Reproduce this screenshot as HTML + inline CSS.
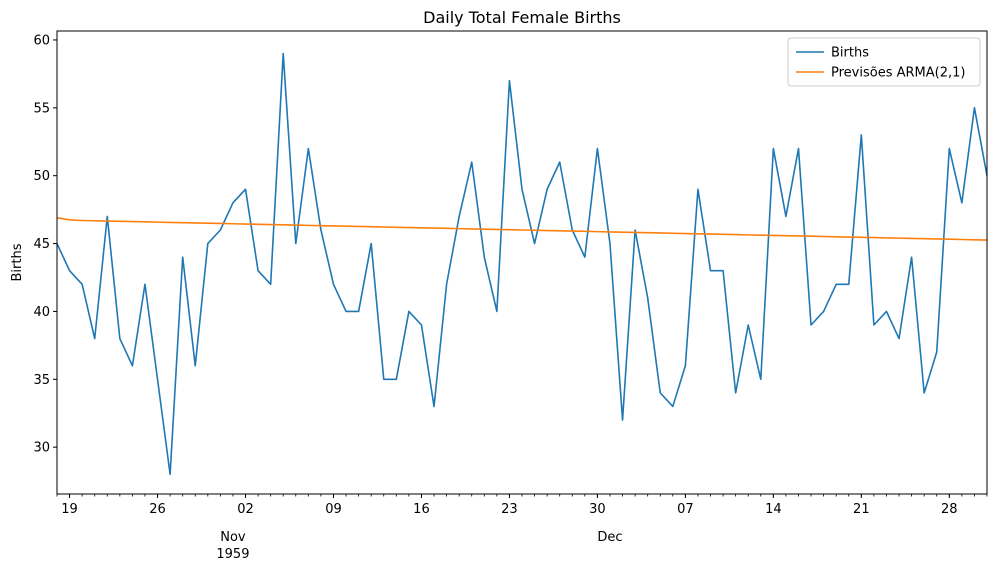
<!DOCTYPE html>
<html><head><meta charset="utf-8"><style>
body{margin:0;background:#fff;font-family:"Liberation Sans","DejaVu Sans",sans-serif;}
svg{display:block}
text{font-family:"DejaVu Sans","Liberation Sans",sans-serif;fill:#000}
</style></head><body>
<svg id="chart" width="996" height="576" viewBox="0 0 996 576"></svg>
<script>
const births = [45,43,42,38,47,38,36,42,35,28,44,36,45,46,
48,49,43,42,59,45,52,46,42,40,40,45,35,35,40,39,33,42,47,51,44,40,57,49,45,49,51,46,44,52,
45,32,46,41,34,33,36,49,43,43,34,39,35,52,47,52,39,40,42,42,53,39,40,38,44,34,37,52,48,55,50];
const forecast = [46.90,46.75,46.70,46.68,46.66,46.64,46.62,46.60,46.58,46.56,46.54,46.52,46.50,46.48,46.46,46.44,46.42,46.40,46.38,46.36,46.34,46.32,46.30,46.28,46.26,46.24,46.22,46.20,46.18,46.16,46.14,46.12,46.10,46.08,46.06,46.04,46.02,46.00,45.98,45.96,45.94,45.92,45.90,45.88,45.86,45.84,45.82,45.80,45.78,45.76,45.74,45.72,45.70,45.68,45.66,45.64,45.62,45.60,45.58,45.56,45.54,45.52,45.50,45.48,45.46,45.44,45.42,45.40,45.38,45.36,45.34,45.32,45.30,45.28,45.26];
const yTicks = [30,35,40,45,50,55,60];
const xTickDays = [1,8,15,22,29,36,43,50,57,64,71];
const xTickLabels = ["19","26","02","09","16","23","30","07","14","21","28"];
const monthDays = [14,44];
const monthLabels = ["Nov","Dec"];

const NS="http://www.w3.org/2000/svg";
const svg=document.getElementById('chart');
const L=57,R=987,T=31,B=494;
const yMin=26.55,yMax=60.66;
const nDays=births.length;
const x=d=>L+(R-L)*d/(nDays-1);
const y=v=>B-(B-T)*(v-yMin)/(yMax-yMin);
function el(tag,attrs,parent){const e=document.createElementNS(NS,tag);for(const k in attrs)e.setAttribute(k,attrs[k]);(parent||svg).appendChild(e);return e;}

const title=el('text',{x:(L+R)/2,y:23,'text-anchor':'middle','font-size':16});
title.textContent='Daily Total Female Births';



const ylab=el('text',{x:0,y:0,transform:`translate(21,${(T+B)/2}) rotate(-90)`,'text-anchor':'middle','font-size':13});
ylab.textContent='Births';



yTicks.forEach(v=>{
  const g=el('g',{});
  
  
  el('line',{x1:L-4,x2:L,y1:y(v),y2:y(v),stroke:'#000','stroke-width':1},g);
  const t=el('text',{x:L-7,y:y(v)+4.5,'text-anchor':'end','font-size':13},g);t.textContent=v;
});
for(let d=0;d<nDays;d++){
  const m=el('line',{x1:x(d),x2:x(d),y1:B,y2:B+2.5,stroke:'#000','stroke-width':0.8});
  
  
}
xTickDays.forEach((d,i)=>{
  const g=el('g',{});
  
  
  el('line',{x1:x(d),x2:x(d),y1:B,y2:B+4,stroke:'#000','stroke-width':1},g);
  const t=el('text',{x:x(d),y:B+19,'text-anchor':'middle','font-size':13},g);t.textContent=xTickLabels[i];
});
monthDays.forEach((d,i)=>{
  const t=el('text',{x:x(d),y:B+47,'text-anchor':'middle','font-size':13});
  t.textContent=monthLabels[i];
  
  
  if(i===0){const t2=el('text',{x:x(d),y:B+64,'text-anchor':'middle','font-size':13});t2.textContent='1959';
    
    }
});

function line(arr,color,name){
  const p=el('polyline',{points:arr.map((v,i)=>x(i)+','+y(v)).join(' '),fill:'none',stroke:color,'stroke-width':1.6,'stroke-linejoin':'round'});
  
  
}
line(births,'#1f77b4','births-line');
line(forecast,'#ff7f0e','forecast-line');

const frame=el('rect',{x:L,y:T,width:R-L,height:B-T,fill:'none',stroke:'#000','stroke-width':1});



const lg=el('g',{});


el('rect',{x:788,y:38,width:192,height:48,rx:3,fill:'#fff','fill-opacity':0.8,stroke:'#ccc'},lg);
[['Births','#1f77b4',52],['Previsões ARMA(2,1)','#ff7f0e',72]].forEach(([n,c,yy])=>{
  const g=el('g',{},lg);
  
  
  el('line',{x1:796,x2:824,y1:yy,y2:yy,stroke:c,'stroke-width':1.6},g);
  const t=el('text',{x:831,y:yy+4.5,'font-size':13},g);t.textContent=n;
});
</script>
</body></html>
